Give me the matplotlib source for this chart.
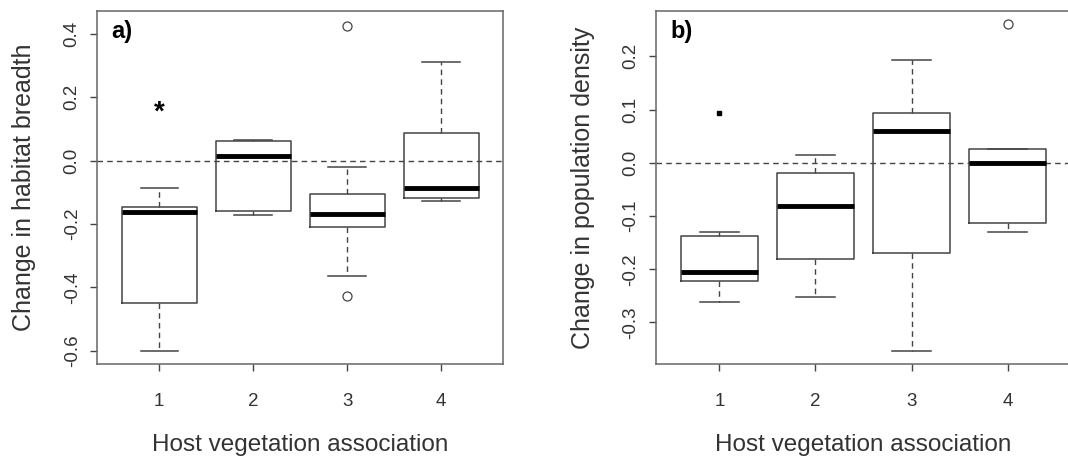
import matplotlib
matplotlib.use("Agg")
import matplotlib.pyplot as plt

plt.rcParams["font.family"] = ["Liberation Sans", "DejaVu Sans"]
plt.rcParams["axes.unicode_minus"] = False

groups = [1, 2, 3, 4]

# panel a: change in habitat breadth
a_whislo = [-0.600, -0.173, -0.363, -0.129]
a_q1 = [-0.449, -0.158, -0.209, -0.117]
a_med = [-0.163, 0.014, -0.168, -0.087]
a_q3 = [-0.145, 0.061, -0.105, 0.086]
a_whishi = [-0.087, 0.064, -0.021, 0.311]
a_fliers = [[], [], [0.423, -0.428], []]
a_yticks = [-0.6, -0.4, -0.2, 0.0, 0.2, 0.4]
a_ylim = (-0.641, 0.471)

# panel b: change in population density
b_whislo = [-0.261, -0.252, -0.353, -0.131]
b_q1 = [-0.223, -0.181, -0.169, -0.1125]
b_med = [-0.206, -0.082, 0.059, 0.0]
b_q3 = [-0.138, -0.0195, 0.093, 0.025]
b_whishi = [-0.131, 0.015, 0.193, 0.025]
b_fliers = [[], [], [], [0.260]]
b_yticks = [-0.3, -0.2, -0.1, 0.0, 0.1, 0.2]
b_ylim = (-0.378, 0.285)

# significance marks
a_mark = (1, 0.150)
b_mark = (1, 0.093)

EDGE = "#444444"
TXT = "#333333"


def draw_panel(ax, whislo, q1, med, q3, whishi, fliers, yticks, ylim, ylabel, tag):
    stats = []
    for i in range(len(groups)):
        stats.append(dict(whislo=whislo[i], q1=q1[i], med=med[i], q3=q3[i],
                          whishi=whishi[i], fliers=fliers[i]))
    ax.bxp(stats, positions=groups, widths=0.8,
           boxprops=dict(color=EDGE, lw=1.1),
           medianprops=dict(color="black", lw=3.5, solid_capstyle="butt"),
           whiskerprops=dict(color=EDGE, lw=1, ls=(0, (4, 3))),
           capprops=dict(color=EDGE, lw=1.1),
           flierprops=dict(marker="o", mfc="none", mec=EDGE, ms=6.5, mew=0.9),
           capwidths=0.4, manage_ticks=False)
    ax.axhline(0, color=EDGE, lw=1, ls=(0, (4, 3)), zorder=0)
    ax.set_xlim(0.34, 4.66)
    ax.set_ylim(*ylim)
    ax.set_xticks(groups)
    ax.set_xticklabels([str(g) for g in groups])
    ax.set_yticks(yticks)
    ax.set_yticklabels(["%.1f" % t for t in yticks], rotation=90, va="center")
    ax.tick_params(axis="both", colors=EDGE, labelcolor=TXT, labelsize=13.5,
                   length=5, width=1)
    ax.tick_params(axis="x", pad=16)
    ax.tick_params(axis="y", pad=7)
    for s in ax.spines.values():
        s.set_color("#666666")
        s.set_linewidth(1.1)
    ax.set_xlabel("Host vegetation association", fontsize=17.5, color=TXT,
                  labelpad=17)
    ax.set_ylabel(ylabel, fontsize=18, color=TXT, labelpad=20)
    ax.text(0.035, 0.975, tag, transform=ax.transAxes, fontsize=17,
            fontweight="bold", va="top", ha="left")


fig = plt.figure(figsize=(10.68, 4.59), dpi=100)
ax1 = fig.add_axes([0.0911, 0.207, 0.380, 0.769])
ax2 = fig.add_axes([0.6142, 0.207, 0.3886, 0.769])

draw_panel(ax1, a_whislo, a_q1, a_med, a_q3, a_whishi, a_fliers,
           a_yticks, a_ylim, "Change in habitat breadth", "a)")
draw_panel(ax2, b_whislo, b_q1, b_med, b_q3, b_whishi, b_fliers,
           b_yticks, b_ylim, "Change in population density", "b)")

ax1.text(a_mark[0], a_mark[1], "*", fontsize=20, fontweight="bold",
         ha="center", va="center")
ax2.plot([b_mark[0]], [b_mark[1]], marker="s", color="black", ms=3, ls="none")

fig.savefig("out.png", dpi=100)
